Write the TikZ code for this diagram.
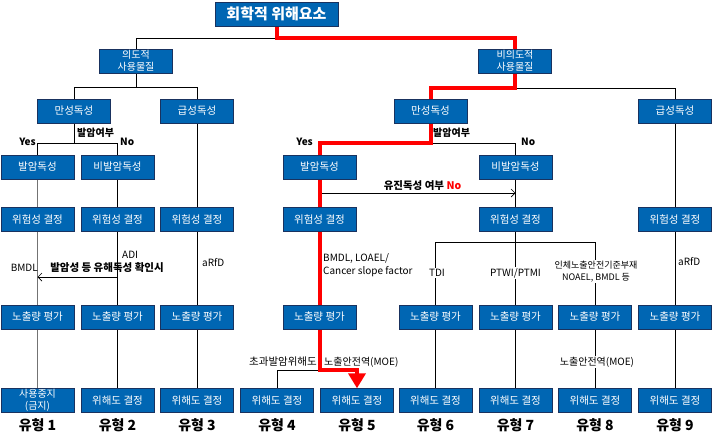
\documentclass[tikz,border=0pt]{standalone}
\usepackage{fontspec}
\setmainfont{Noto Sans CJK KR}
\usetikzlibrary{arrows.meta,backgrounds}
\definecolor{boxblue}{RGB}{0,102,179}
\definecolor{boxline}{RGB}{25,50,95}
\definecolor{pathred}{RGB}{255,0,0}
\begin{document}
\begin{tikzpicture}
    [
    x = 1pt, y = -1pt,
    font = \fontsize{10}{12}\selectfont,
    ]
    \tikzstyle{blue node}=[rectangle,draw=boxline,fill=boxblue,text=white,minimum width=73,minimum height=24,inner sep=1,align=center,font=\fontsize{10.5}{11.5}\selectfont]
    \tikzstyle{bold node}=[inner sep=1,font=\fontsize{10}{12}\selectfont\bfseries]
    \tikzstyle{text node}=[inner sep=1,align=left]
    \tikzstyle{cut node}=[inner sep=1,fill=white,align=center]
    \tikzstyle{type node}=[inner sep=0,font=\fontsize{14}{16}\selectfont\bfseries]
    \tikzstyle{thin line}=[draw=black,line width=0.7]
    \tikzstyle{gray line}=[draw=black!55,line width=0.7]
    \tikzstyle{red line}=[draw=pathred,line width=4]

    \useasboundingbox (0,0) rectangle (713,437);

    \node[blue node,minimum width=123,font=\fontsize{15}{17}\selectfont\bfseries] (top) at (276.5,14) {회학적 위해요소};

    \node[blue node,font=\fontsize{10}{11.5}\selectfont] (intent) at (136,61) {의도적\\사용물질};
    \node[blue node,font=\fontsize{10}{11.5}\selectfont] (nonintent) at (515,61) {비의도적\\사용물질};

    \node[blue node] (chronL) at (74,111) {만성독성};
    \node[blue node] (acuteL) at (197,111) {급성독성};
    \node[blue node] (chronR) at (430.5,111) {만성독성};
    \node[blue node] (acuteR) at (675,111) {급성독성};

    \node[blue node] (canL) at (37.5,167) {발암독성};
    \node[blue node] (noncanL) at (117.5,167) {비발암독성};
    \node[blue node] (canR) at (319.5,167) {발암독성};
    \node[blue node] (noncanR) at (515.5,167) {비발암독성};

    \node[blue node] (risk1) at (37.5,219.5) {위험성 결정};
    \node[blue node] (risk2) at (117.5,219.5) {위험성 결정};
    \node[blue node] (risk3) at (197,219.5) {위험성 결정};
    \node[blue node] (risk4) at (319.5,219.5) {위험성 결정};
    \node[blue node] (risk5) at (515.5,219.5) {위험성 결정};
    \node[blue node] (risk6) at (675,219.5) {위험성 결정};

    \node[blue node] (exp1) at (37.5,317) {노출량 평가};
    \node[blue node] (exp2) at (117.5,317) {노출량 평가};
    \node[blue node] (exp3) at (197,317) {노출량 평가};
    \node[blue node] (exp4) at (319.5,317) {노출량 평가};
    \node[blue node] (exp6) at (435.5,317) {노출량 평가};
    \node[blue node] (exp7) at (515.5,317) {노출량 평가};
    \node[blue node] (exp8) at (595,317) {노출량 평가};
    \node[blue node] (exp9) at (675,317) {노출량 평가};

    \node[blue node,font=\fontsize{10}{11.5}\selectfont] (haz1) at (37.5,400.5) {사용중지\\(금지)};
    \node[blue node] (haz2) at (117.5,400.5) {위해도 결정};
    \node[blue node] (haz3) at (197,400.5) {위해도 결정};
    \node[blue node] (haz4) at (277,400.5) {위해도 결정};
    \node[blue node] (haz5) at (357,400.5) {위해도 결정};
    \node[blue node] (haz6) at (435.5,400.5) {위해도 결정};
    \node[blue node] (haz7) at (515.5,400.5) {위해도 결정};
    \node[blue node] (haz8) at (595,400.5) {위해도 결정};
    \node[blue node] (haz9) at (675,400.5) {위해도 결정};

    \node[type node] (type1) at (37.5,425) {유형 1};
    \node[type node] (type2) at (117.5,425) {유형 2};
    \node[type node] (type3) at (197,425) {유형 3};
    \node[type node] (type4) at (277,425) {유형 4};
    \node[type node] (type5) at (357,425) {유형 5};
    \node[type node] (type6) at (435.5,425) {유형 6};
    \node[type node] (type7) at (515.5,425) {유형 7};
    \node[type node] (type8) at (595,425) {유형 8};
    \node[type node] (type9) at (675,425) {유형 9};

    \node[bold node,anchor=west] (askL) at (76,133) {발암여부};
    \node[bold node,anchor=east] (yesL) at (37,142) {Yes};
    \node[bold node,anchor=west] (noL) at (119,142) {No};
    \node[bold node,anchor=west] (askR) at (432,133) {발암여부};
    \node[bold node,anchor=east] (yesR) at (314,142) {Yes};
    \node[bold node,anchor=west] (noR) at (520,142) {No};
    \node[bold node,font=\fontsize{10.5}{12}\selectfont\bfseries] (geno) at (422.5,186) {유진독성 여부 \textcolor{pathred}{No}};

    \node[text node,anchor=west] (adi) at (121,255) {ADI};
    \node[text node,anchor=east] (bmdlL) at (39,268) {BMDL};
    \node[bold node,font=\fontsize{10.5}{12}\selectfont\bfseries] (harm) at (107,268) {발암성 등 유해독성 확인시};
    \node[text node,anchor=west] (arfdL) at (201,263) {aRfD};
    \node[text node,anchor=west] (arfdR) at (677,262) {aRfD};
    \node[text node,anchor=west,font=\fontsize{10}{13.5}\selectfont] (slope) at (322,265) {BMDL, LOAEL/\\Cancer slope factor};
    \node[cut node] (tdi) at (437,273) {TDI};
    \node[cut node] (ptwi) at (515.5,273) {PTWI/PTMI};
    \node[cut node,font=\fontsize{9}{12.5}\selectfont] (noael) at (596,271.5) {인체노출안전기준부재\\NOAEL, BMDL 등};
    \node[cut node] (moe8) at (597,362) {노출안전역(MOE)};
    \node[text node,anchor=east,font=\fontsize{10.5}{12}\selectfont] (excess) at (318,362) {초과발암위해도};
    \node[text node,anchor=west] (moe5) at (323,362) {노출안전역(MOE)};

    \coordinate (genrow) at (0,193);
    \coordinate (harmrow) at (0,277);
    \coordinate (turn) at (319.5,370);

    \begin{scope}[on background layer]
    \draw[thin line] (top.south) -- ++(0,12) -| (intent.north);
    \draw[thin line] (intent.south) -- ++(0,14) -| (chronL.north);
    \draw[thin line] (intent.south) ++(0,14) -| (acuteL.north);
    \draw[thin line] (nonintent.south) ++(0,15) -| (acuteR.north);
    \draw[thin line] (chronL.south) -- ++(0,20) -| (canL.north);
    \draw[thin line] (chronL.south) ++(0,20) -| (noncanL.north);
    \draw[gray line] (canL.south) -- (haz1.north);
    \draw[thin line] (noncanL.south) -- (haz2.north);
    \draw[thin line] (acuteL.south) -- (haz3.north);
    \draw[thin line] (chronR.south) ++(0,20) -| (noncanR.north);
    \draw[thin line] (noncanR.south) -- (risk5.north);
    \draw[thin line] (risk5.south) -- ++(0,11) -| (exp6.north);
    \draw[thin line] (risk5.south) ++(0,11) -| (exp8.north);
    \draw[thin line] (risk5.south) -- (haz7.north);
    \draw[thin line] (exp6.south) -- (haz6.north);
    \draw[thin line] (exp8.south) -- (haz8.north);
    \draw[thin line] (acuteR.south) -- (haz9.north);
    \draw[thin line] (haz4.north) |- (turn);
    \draw[thin line,-{Straight Barb[length=4,width=8]}] (noncanL |- harmrow) -- (canL |- harmrow);
    \draw[thin line,-{Straight Barb[length=4,width=8]}] (canR |- genrow) -- (noncanR |- genrow);
    \draw[red line] (top.south) -- ++(0,12) -| (nonintent.north);
    \draw[red line] (nonintent.south) -- ++(0,15) -| (chronR.north);
    \draw[red line] (chronR.south) -- ++(0,20) -| (exp4.north);
    \draw[red line,-{Triangle[length=15,width=17]}] (exp4.south) -- (turn) -| (haz5.north);
    \end{scope}
\end{tikzpicture}
\end{document}
